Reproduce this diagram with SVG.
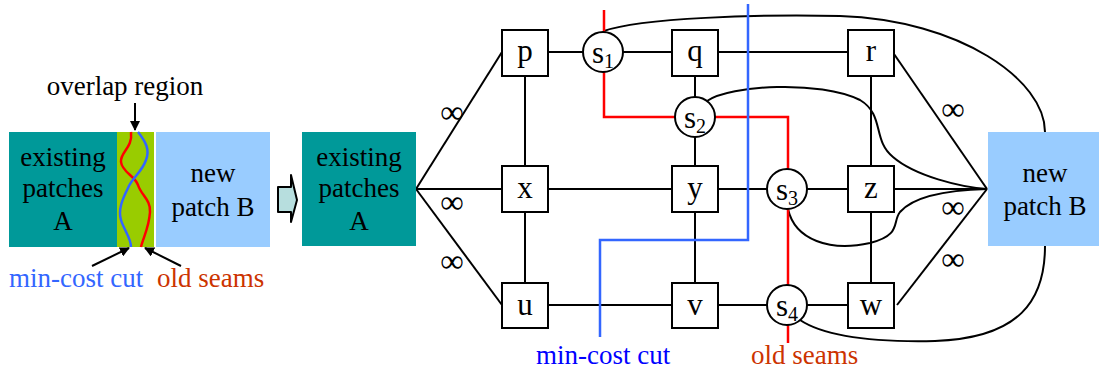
<svg xmlns="http://www.w3.org/2000/svg" width="1099" height="374" viewBox="0 0 1099 374">
<defs>
<style>
text{font-family:"Liberation Serif","Times New Roman",serif;font-size:27px;fill:#000}
.c{text-anchor:middle}
.n{font-size:31px}
.inf{font-size:33px}
.box{fill:#fff;stroke:#000;stroke-width:2}
.ln{fill:none;stroke:#000;stroke-width:2}
.red{fill:none;stroke:#ff0000;stroke-width:2.5}
.blue{fill:none;stroke:#3366ff;stroke-width:2.5}
.sub{font-size:20px}
</style>
<marker id="ah" markerWidth="10" markerHeight="10" refX="9" refY="5" orient="auto" markerUnits="userSpaceOnUse">
<path d="M0,0 L10,5 L0,10 z" fill="#000"/>
</marker>
</defs>
<rect width="1099" height="374" fill="#fff"/>

<g id="left-panel">
<rect x="9" y="132" width="108" height="115" fill="#009999"/>
<rect x="117" y="132" width="37" height="115" fill="#99cc00"/>
<rect x="156" y="132" width="114" height="115" fill="#99ccff"/>
<path class="red" d="M131,132 C133,148 120,152 121,162 C122,172 135,176 138,185 C141,195 151,200 150,212 C149,228 143,238 141,247"/>
<path class="blue" d="M138,132 C146,142 150,150 146,160 C142,172 132,178 128,188 C122,200 118,210 121,220 C124,230 131,238 131,247"/>
<text class="c" x="63" y="166">existing</text>
<text class="c" x="63" y="197">patches</text>
<text class="c" x="63" y="230">A</text>
<text class="c" x="213" y="182">new</text>
<text class="c" x="213" y="216">patch B</text>
<text class="c" x="125" y="95">overlap region</text>
<line class="ln" x1="135" y1="103" x2="135" y2="130" marker-end="url(#ah)"/>
<line class="ln" x1="92" y1="266" x2="129" y2="248" marker-end="url(#ah)"/>
<line class="ln" x1="181" y1="266" x2="145" y2="248" marker-end="url(#ah)"/>
<text x="9" y="287" style="fill:#3366ff">min-cost cut</text>
<text x="157" y="287" style="fill:#cc3300">old seams</text>
</g>

<g id="big-arrow">
<path d="M278,187 L291,187 L291,175 L297,200 L291,222 L291,212 L278,212 Z" fill="#b7dede" stroke="#000" stroke-width="2" stroke-linejoin="round"/>
</g>

<g id="connectors">
<line class="ln" x1="416" y1="189" x2="502" y2="52"/>
<line class="ln" x1="416" y1="189" x2="502" y2="189"/>
<line class="ln" x1="416" y1="189" x2="502" y2="305"/>
<line class="ln" x1="548" y1="52" x2="583" y2="52"/>
<line class="ln" x1="623" y1="52" x2="672" y2="52"/>
<line class="ln" x1="718" y1="52" x2="848" y2="52"/>
<line class="ln" x1="525" y1="76" x2="525" y2="166"/>
<line class="ln" x1="525" y1="212" x2="525" y2="283"/>
<line class="ln" x1="548" y1="189" x2="672" y2="189"/>
<line class="ln" x1="548" y1="305" x2="672" y2="305"/>
<line class="ln" x1="695" y1="76" x2="695" y2="97"/>
<line class="ln" x1="695" y1="137" x2="695" y2="166"/>
<line class="ln" x1="695" y1="212" x2="695" y2="283"/>
<line class="ln" x1="718" y1="189" x2="767" y2="189"/>
<line class="ln" x1="807" y1="189" x2="848" y2="189"/>
<line class="ln" x1="718" y1="305" x2="767" y2="305"/>
<line class="ln" x1="807" y1="305" x2="848" y2="305"/>
<line class="ln" x1="871" y1="76" x2="871" y2="166"/>
<line class="ln" x1="871" y1="212" x2="871" y2="283"/>
<line class="ln" x1="894" y1="54" x2="987" y2="189"/>
<line class="ln" x1="894" y1="189" x2="987" y2="189"/>
<line class="ln" x1="897" y1="305" x2="987" y2="189"/>
<path class="ln" d="M604,31 C640,18 760,14 840,16 C960,20 1045,80 1045,132"/>
<path class="ln" d="M707,101 C730,85 820,80 860,100 C885,115 872,140 893,157 C915,176 960,187 987,189"/>
<path class="ln" d="M788,209 C795,240 830,252 870,243 C902,235 892,222 900,212 C914,196 950,190 987,189"/>
<path class="ln" d="M800,320 C830,340 890,342 935,341 C1020,338 1045,300 1045,246"/>
</g>

<g id="old-seams">
<polyline class="red" points="604,10 604,32"/>
<polyline class="red" points="604,72 604,117 675,117"/>
<polyline class="red" points="715,117 788,117 788,169"/>
<polyline class="red" points="788,209 788,285"/>
<polyline class="red" points="788,325 788,343"/>
</g>

<g id="min-cost-cut">
<polyline class="blue" points="748,4 748,240 600,240 600,337"/>
</g>

<g id="node-A">
<rect x="302" y="132" width="114" height="114" fill="#009999"/>
<text class="c" x="359" y="166">existing</text>
<text class="c" x="359" y="197">patches</text>
<text class="c" x="359" y="230">A</text>
</g>
<g id="node-B">
<rect x="988" y="132" width="111" height="114" fill="#99ccff"/>
<text class="c" x="1045" y="182">new</text>
<text class="c" x="1045" y="215">patch B</text>
</g>

<g id="node-p"><rect class="box" x="502" y="30" width="46" height="46"/><text class="c n" x="525" y="61">p</text></g>
<g id="node-q"><rect class="box" x="672" y="30" width="46" height="46"/><text class="c n" x="695" y="61">q</text></g>
<g id="node-r"><rect class="box" x="848" y="30" width="46" height="46"/><text class="c n" x="871" y="61">r</text></g>
<g id="node-x"><rect class="box" x="502" y="166" width="46" height="46"/><text class="c n" x="525" y="198">x</text></g>
<g id="node-y"><rect class="box" x="672" y="166" width="46" height="46"/><text class="c n" x="695" y="198">y</text></g>
<g id="node-z"><rect class="box" x="848" y="166" width="46" height="46"/><text class="c n" x="871" y="198">z</text></g>
<g id="node-u"><rect class="box" x="502" y="283" width="46" height="45"/><text class="c n" x="525" y="315">u</text></g>
<g id="node-v"><rect class="box" x="672" y="283" width="46" height="45"/><text class="c n" x="695" y="315">v</text></g>
<g id="node-w"><rect class="box" x="848" y="283" width="46" height="45"/><text class="c n" x="871" y="315">w</text></g>

<g id="node-s1"><circle class="box" cx="603" cy="52" r="20"/><text class="c n" x="603" y="63">s<tspan class="sub" dy="5">1</tspan></text></g>
<g id="node-s2"><circle class="box" cx="695" cy="117" r="20"/><text class="c n" x="695" y="128">s<tspan class="sub" dy="5">2</tspan></text></g>
<g id="node-s3"><circle class="box" cx="787" cy="189" r="20"/><text class="c n" x="787" y="200">s<tspan class="sub" dy="5">3</tspan></text></g>
<g id="node-s4"><circle class="box" cx="787" cy="305" r="20"/><text class="c n" x="787" y="316">s<tspan class="sub" dy="5">4</tspan></text></g>

<g id="labels">
<text class="c inf" x="452" y="123">∞</text>
<text class="c inf" x="452" y="213">∞</text>
<text class="c inf" x="452" y="272">∞</text>
<text class="c inf" x="953" y="120">∞</text>
<text class="c inf" x="953" y="218">∞</text>
<text class="c inf" x="953" y="270">∞</text>
<text x="536" y="364" style="fill:#0000ff">min-cost cut</text>
<text x="751" y="364" style="fill:#cc3300">old seams</text>
</g>
</svg>
